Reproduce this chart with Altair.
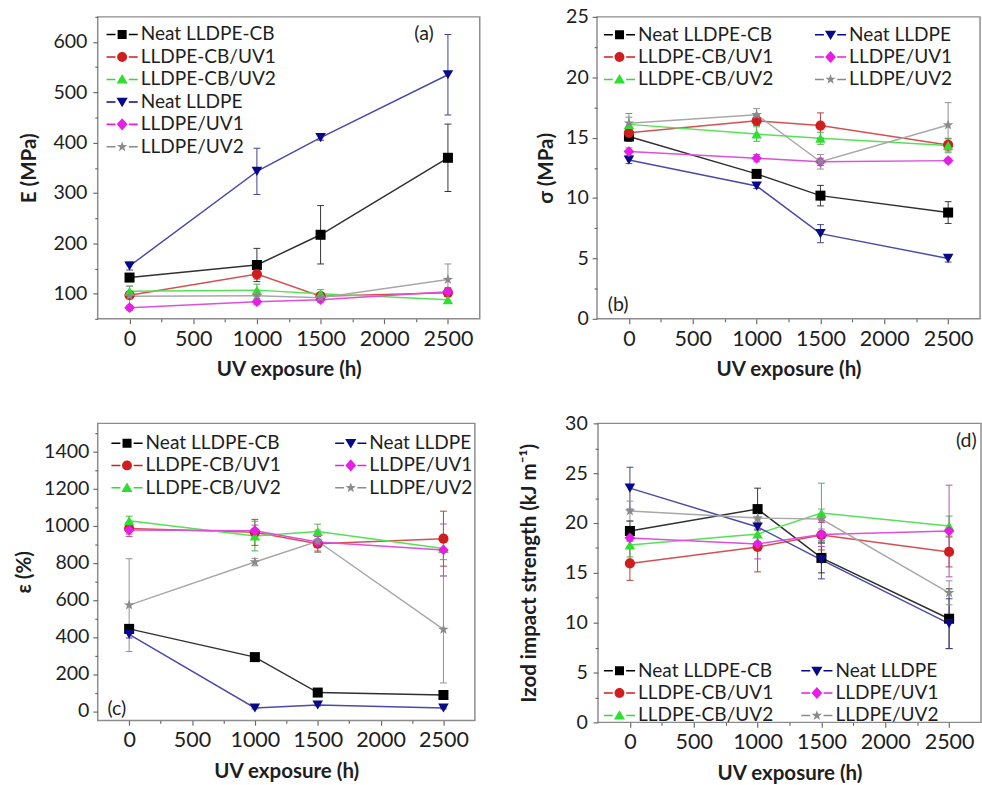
import math
import altair as alt
import pandas as pd

FONT = "Lato"
TEXT = "#1e1e1e"

HOURS = [0, 1000, 1500, 2500]
SERIES = ["Neat LLDPE-CB", "LLDPE-CB/UV1", "LLDPE-CB/UV2", "Neat LLDPE", "LLDPE/UV1", "LLDPE/UV2"]
PANEL_LABELS = ["(a)", "(b)", "(c)", "(d)"]

# (a) Young's modulus E (MPa)
E_MEAN = {
    "Neat LLDPE-CB": [132, 157, 217, 370],
    "LLDPE-CB/UV1": [97, 139, 95, 102],
    "LLDPE-CB/UV2": [105, 107, 100, 88],
    "Neat LLDPE": [155, 343, 410, 535],
    "LLDPE/UV1": [72, 84, 88, 104],
    "LLDPE/UV2": [95, 96, 92, 128],
}
E_ERR = {
    "Neat LLDPE-CB": [8, 33, 58, 67],
    "LLDPE-CB/UV1": [6, 10, 6, 8],
    "LLDPE-CB/UV2": [10, 12, 8, 6],
    "Neat LLDPE": [8, 46, 5, 80],
    "LLDPE/UV1": [5, 6, 5, 8],
    "LLDPE/UV2": [20, 8, 6, 31],
}
# (b) tensile strength sigma (MPa)
S_MEAN = {
    "Neat LLDPE-CB": [15.1, 12.0, 10.2, 8.8],
    "LLDPE-CB/UV1": [15.4, 16.4, 16.0, 14.4],
    "LLDPE-CB/UV2": [16.1, 15.3, 14.95, 14.35],
    "Neat LLDPE": [13.15, 11.0, 7.05, 5.0],
    "LLDPE/UV1": [13.85, 13.3, 13.0, 13.1],
    "LLDPE/UV2": [16.2, 16.9, 13.0, 16.05],
}
S_ERR = {
    "Neat LLDPE-CB": [0.4, 0.3, 0.85, 0.9],
    "LLDPE-CB/UV1": [0.5, 0.4, 1.05, 0.5],
    "LLDPE-CB/UV2": [0.6, 0.6, 0.5, 0.6],
    "Neat LLDPE": [0.3, 0.2, 0.75, 0.3],
    "LLDPE/UV1": [0.3, 0.3, 0.3, 0.2],
    "LLDPE/UV2": [0.8, 0.5, 0.6, 1.85],
}
# (c) elongation epsilon (%)
EPS_MEAN = {
    "Neat LLDPE-CB": [443, 291, 100, 87],
    "LLDPE-CB/UV1": [984, 963, 902, 929],
    "LLDPE-CB/UV2": [1025, 943, 967, 876],
    "Neat LLDPE": [414, 17, 33, 17],
    "LLDPE/UV1": [976, 972, 911, 868],
    "LLDPE/UV2": [571, 803, 915, 440],
}
EPS_ERR = {
    "Neat LLDPE-CB": [15, 12, 10, 10],
    "LLDPE-CB/UV1": [30, 70, 40, 148],
    "LLDPE-CB/UV2": [25, 80, 40, 60],
    "Neat LLDPE": [20, 5, 5, 5],
    "LLDPE/UV1": [35, 30, 30, 140],
    "LLDPE/UV2": [250, 20, 60, 288],
}
# (d) Izod impact strength (kJ m^-1)
IZ_MEAN = {
    "Neat LLDPE-CB": [19.2, 21.4, 16.5, 10.4],
    "LLDPE-CB/UV1": [15.95, 17.6, 18.8, 17.1],
    "LLDPE-CB/UV2": [17.8, 18.9, 21.0, 19.7],
    "Neat LLDPE": [23.5, 19.6, 16.3, 9.9],
    "LLDPE/UV1": [18.5, 17.9, 18.85, 19.2],
    "LLDPE/UV2": [21.2, 20.5, 20.4, 13.0],
}
IZ_ERR = {
    "Neat LLDPE-CB": [1.0, 2.1, 1.5, 3.0],
    "LLDPE-CB/UV1": [1.7, 2.5, 1.5, 1.5],
    "LLDPE-CB/UV2": [1.2, 1.5, 3.0, 1.0],
    "Neat LLDPE": [2.1, 1.5, 1.9, 2.5],
    "LLDPE/UV1": [1.0, 1.5, 1.2, 4.6],
    "LLDPE/UV2": [1.0, 1.2, 1.0, 1.2],
}

# ---- styles ----
MARKER_COLORS = dict(zip(SERIES, ["#000000", "#d01e1e", "#2ee02e", "#08088a", "#e61ee6", "#8a8a8a"]))
LINE_COLORS = dict(zip(SERIES, ["#303030", "#d45050", "#55e255", "#4a4aa8", "#dc50dc", "#a8a8a8"]))
BAR_COLORS = dict(zip(SERIES, ["#333333", "#b04040", "#50b050", "#404090", "#b050b0", "#909090"]))


def star_path(r_out, r_in):
    pts = []
    for k in range(10):
        r = r_out if k % 2 == 0 else r_in
        a = math.radians(-90 + 36 * k)
        pts.append(f"{r * math.cos(a):.3f},{r * math.sin(a):.3f}")
    return "M" + "L".join(pts) + "Z"


MARKER_SHAPES = dict(zip(SERIES, ["square", "circle", "triangle-up", "triangle-down", "diamond", star_path(1.0, 0.4)]))
MARKER_SIZES = dict(zip(SERIES, [105, 125, 145, 145, 145, 170]))

SEG = "M-1.45,-0.07H-0.62V0.07H-1.45Z M0.62,-0.07H1.45V0.07H0.62Z "
LEG_SHAPES = dict(zip(SERIES, [
    SEG + "M-0.42,-0.42H0.42V0.42H-0.42Z",
    SEG + "M-0.46,0A0.46,0.46,0,1,0,0.46,0A0.46,0.46,0,1,0,-0.46,0Z",
    SEG + "M0,-0.5L0.52,0.38H-0.52Z",
    SEG + "M0,0.5L0.52,-0.38H-0.52Z",
    SEG + "M0,-0.56L0.5,0L0,0.56L-0.5,0Z",
    SEG + star_path(0.5, 0.2),
]))


def long_df(mean, err):
    rows = []
    for s in SERIES:
        for h, m, e in zip(HOURS, mean[s], err[s]):
            rows.append({"series": s, "h": h, "v": m, "lo": m - e, "hi": m + e})
    return pd.DataFrame(rows)


def panel(df, ydom, ystep, ymajor, ytitle, ylabpad, ytitlepad, leg_cols,
          legx, legy, colpad, label, lab_x, lab_y, lab_align, w, h):
    xvals = list(range(0, 2501, 250))
    xaxis = alt.Axis(values=xvals, format="d",
                     labelExpr="datum.value % 500 == 0 ? datum.label : ''",
                     tickSize={"condition": {"test": "datum.value % 500 == 0", "value": 5}, "value": 3},
                     title="UV exposure (h)")
    k0 = math.ceil(ydom[0] / ystep - 1e-9)
    k1 = math.floor(ydom[1] / ystep + 1e-9)
    yvals = [round(ystep * k, 4) for k in range(k0, k1 + 1)]
    test = f"abs(datum.value % {ymajor}) < 0.001"
    yaxis = alt.Axis(values=yvals, format="d",
                     labelExpr=f"{test} ? datum.label : ''",
                     tickSize={"condition": {"test": test, "value": 5}, "value": 3},
                     labelPadding=ylabpad, titlePadding=ytitlepad, title=ytitle)
    X = alt.X("h:Q", scale=alt.Scale(domain=[-250, 2750], nice=False, zero=False), axis=xaxis)
    Y = alt.Y("v:Q", scale=alt.Scale(domain=ydom, nice=False, zero=False), axis=yaxis)
    Ylo = alt.Y("lo:Q", scale=alt.Scale(domain=ydom, nice=False, zero=False), axis=yaxis)
    Yhi = alt.Y("hi:Q", scale=alt.Scale(domain=ydom, nice=False, zero=False), axis=yaxis)

    def cscale(d):
        return alt.Scale(domain=SERIES, range=[d[s] for s in SERIES])

    base = alt.Chart(df)
    lines = base.mark_line(strokeWidth=1.5).encode(
        x=X, y=Y, color=alt.Color("series:N", scale=cscale(LINE_COLORS), legend=None),
        detail="series:N")
    bars = base.mark_rule(strokeWidth=1).encode(
        x=X, y=Ylo, y2="hi:Q", color=alt.Color("series:N", scale=cscale(BAR_COLORS), legend=None))
    cap_lo = base.mark_tick(orient="horizontal", size=7, thickness=1, opacity=1).encode(
        x=X, y=Ylo, color=alt.Color("series:N", scale=cscale(BAR_COLORS), legend=None))
    cap_hi = base.mark_tick(orient="horizontal", size=7, thickness=1, opacity=1).encode(
        x=X, y=Yhi, color=alt.Color("series:N", scale=cscale(BAR_COLORS), legend=None))
    points = base.mark_point(filled=True, opacity=1).encode(
        x=X, y=Y,
        color=alt.Color("series:N", scale=cscale(MARKER_COLORS), legend=None),
        shape=alt.Shape("series:N", scale=alt.Scale(domain=SERIES, range=[MARKER_SHAPES[s] for s in SERIES]), legend=None),
        size=alt.Size("series:N", scale=alt.Scale(domain=SERIES, range=[MARKER_SIZES[s] for s in SERIES]), legend=None),
    )
    leg = alt.Legend(title=None, orient="none", legendX=legx, legendY=legy, columns=leg_cols,
                     columnPadding=colpad, rowPadding=2, padding=0, labelOffset=8,
                     symbolSize=484, symbolStrokeWidth=0, labelFont=FONT, labelFontSize=19.5,
                     labelColor=TEXT, labelLimit=300)
    legend_layer = base.transform_filter("false").mark_point(filled=True, opacity=1).encode(
        x=X, y=Y,
        color=alt.Color("series:N", scale=alt.Scale(domain=SERIES, range=[MARKER_COLORS[s] for s in SERIES]), legend=leg),
        shape=alt.Shape("series:N", scale=alt.Scale(domain=SERIES, range=[LEG_SHAPES[s] for s in SERIES]), legend=leg),
    )
    lab = alt.Chart(pd.DataFrame({"t": [label]})).mark_text(
        font=FONT, fontSize=20, color=TEXT, align=lab_align, baseline="middle").encode(
        text="t:N", x=alt.value(lab_x), y=alt.value(lab_y))
    return alt.layer(lines, bars, cap_lo, cap_hi, points, legend_layer, lab).resolve_scale(
        color="independent", shape="independent", size="independent").properties(width=w, height=h)


pa = panel(long_df(E_MEAN, E_ERR), [50, 650], 50, 100, "E (MPa)", 6, 14,
           1, 14, 7, 10, PANEL_LABELS[0], 334, 18, "center", 391, 309)
pb = panel(long_df(S_MEAN, S_ERR), [0, 25], 2.5, 5, "σ (MPa)", 4, 9,
           2, 12, 7, 42, PANEL_LABELS[1], 11, 295, "left", 392, 309)
pc = panel(long_df(EPS_MEAN, EPS_ERR), [-50, 1550], 100, 200, "ε  (%)", 4, 9,
           2, 19, 9, 55, PANEL_LABELS[2], 10, 292, "left", 386, 304)
pd_ = panel(long_df(IZ_MEAN, IZ_ERR), [0, 30], 2.5, 5, "Izod impact strength (kJ m⁻¹)", 6, 26,
            2, 11, 242, 28, PANEL_LABELS[3], 377, 18, "center", 392, 306)

chart = alt.vconcat(
    alt.hconcat(pa, pb, spacing=56),
    alt.hconcat(pc, pd_, spacing=43),
    spacing=33,
).properties(
    padding={"left": 13, "top": -3, "right": 0, "bottom": 0}
).configure_view(
    stroke="#8c8c8c", strokeWidth=1.5
).configure_axis(
    domain=False, grid=False, tickColor="#6a6a6a", tickWidth=1.2,
    labelFont=FONT, labelColor=TEXT, titleFont=FONT, titleColor=TEXT,
    titleFontSize=21, titleFontWeight="bold",
).configure_axisX(
    labelFontSize=22, labelPadding=5, titlePadding=10
).configure_axisY(
    labelFontSize=20
)

chart.save("out.html", embed_options={"renderer": "svg", "actions": False})
